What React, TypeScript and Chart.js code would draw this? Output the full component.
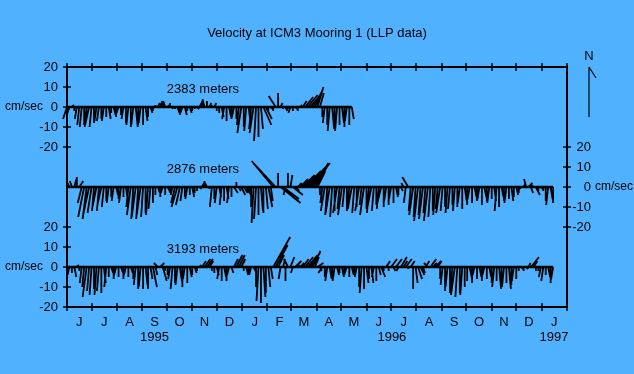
import { useEffect, useRef } from "react";
import { Chart, registerables } from "chart.js";

Chart.register(...registerables);

const BG = "rgb(80,178,255)";
const FONT = "'Liberation Sans', Arial, sans-serif";

const TITLE = "Velocity at ICM3 Mooring 1 (LLP data)";
const DEPTHS = ["2383 meters", "2876 meters", "3193 meters"];
const OFFSETS = [80, 40, 0];
const PANEL_TICKS = [20, 10, 0, -10, -20];

// days since 1 June 1995
const MONTH_STARTS = [0, 30, 61, 92, 122, 153, 183, 214, 245, 274, 305, 335, 366, 396, 427, 458, 488, 519, 549, 580, 611];
const MONTH_LABELS = ["J", "J", "A", "S", "O", "N", "D", "J", "F", "M", "A", "M", "J", "J", "A", "S", "O", "N", "D", "J"];
const YEAR_LABELS = ["1995", "1996", "1997"];
const YEAR_DAYS = [107, 397, 595];
const LABEL_DAY = 122;

const START_DAY = 0;
const STEP_DAYS = 3;

// 2383 m (east, north components, cm/s)
const U1 = [-2, -1, 1, 0, -1,
  -1, -1, 0, -1, -2, -1, 0, -1, -1,
  0, -1, 0, 1,
  0, 1, 0, -1, 0,
  -1, 0, -1, 0, -1, 1, 0, -1, 0, 1,
  0, 1, 0,
  0, 1, 1, 0, -1, 1, 0, 0,
  0, 1, 0, -1, 1, 0, 1, 0, 0, 1,
  1, 0, -1, 0, 1, 0,
  1, 0,
  0, 1, -1, 0, 1, 0, -1, 0,
  -1, -2, 0, -1, 1, -1, -2, -1, 0, 1, 4, 3,
  0, 1, 0, -3.5, 0, 1,
  0, 1, 0, -1, 0, 1, 0, 1,
  2, 4, 5, 6, 5, 4, 3, 2,
  0, -1, 0, -1, 1, 0, -1, 0, 1, 0, -1, 0, 1];
const V1 = [-6, -3, 1, -2, -6,
  -9, -10, -9, -10, -9, -10, -8, -7, -7,
  -6, -7, -5, -6,
  -3, -4, -5, -3, -4,
  -6, -8, -9, -10, -9, -10, -9, -8, -9, -7,
  -5, -3, -2,
  1, 2, 3, 2, 3, 1, 2, -1,
  -1, -3, -4, -3, -4, -2, -3, -2, -1, -1,
  2, 3, 4, 3, 2, 1,
  2, -2,
  -3, -5, -6, -7, -5, -6, -5, -6,
  -9, -13, -10, -12, -9, -11, -13, -17, -15, -11, -9, -6,
  -2, -1, -2, 5.5, 7, 2,
  -1, -2, -1, -3, -2, -1, -2, 1,
  3, 5, 6, 7, 8, 9, 10, 7,
  -5, -8, -9, -12, -11, -10, -12, -9, -8, -10, -7, -9, -6];

// 2876 m
const U2 = [0,
  -1, -1, 1, 0, 2,
  -2, -3, -2, -3, -2, -1, -2, -1, -2, -1, 0, -1,
  0, -1, 1, 0, -1, 0, 1,
  -1, -2, -1, -2, -1, -2, -1, 0, -1, -1, 0,
  0, 1, 0, -1, 0, 1, 0, -1,
  -2, -3, -2, -1, 0, -1, 0, 1, 0, 0, 1,
  1, 0, -1, 0,
  -1, 0, -1, 1, -1, 0, 1, -1, 0,
  2, 0, 1, 2, 2, 3, 1,
  0, -1, -1, 0, 1, 0, 1, 2, 1,
  -10, -12, 0, 10, 8, -1, 0, 1, 5, 2,
  2, 4, 6, 8, 9, 10, 8, 6, 4,
  0, -1, -2, -1, -2, -1, 0, -2, -1, -2, -1, 0, -1, -2, -1, 0, -2, -1, -2, 0, -1, -2, -1, 0, -1, -2, 0, -1, 0, -1, 0, 1, 0,
  1, -1, -1, -3, -1, -2,
  -1, -2, -1, -2, -1, -2, -1, 0, -1, -1, -2, -1, 0, -1, -1, 0, -1, 0, -1, 0, 1,
  0, -1, 0, 1, 0, -1, 0, 1, 0, -1, 0, 1, -1, 0, 1, 0, -1, 0, 1, 0, 1, 0,
  -2, 1, -1, 2, 1, -1, 2, 0, 1, 0,
  0, -1, 1, 0];
const V2 = [-10,
  2, 3, 4, 5, 3,
  -8, -15, -16, -14, -13, -12, -10, -12, -9, -10, -7, -8,
  -5, -7, -4, -6, -8, -5, -7,
  -10, -14, -16, -15, -16, -14, -15, -13, -14, -11, -8,
  -4, -3, -5, -3, -4, -2, -3, -4,
  -8, -10, -9, -7, -5, -6, -4, -5, -3, -2, -1,
  2, 3, 2, -1,
  -10, -6, -8, -5, -9, -7, -6, -8, -5,
  -3, 2.5, -2, -4, -3, -5, -2,
  -10, -18, -16, -14, -12, -13, -11, -10, -7,
  12, 13, 7, -8, -6, -4, 7, 6, -4, -2,
  2, 4, 6, 8, 10, 12, 12, 10, 8,
  -4, -8, -12, -14, -13, -15, -12, -13, -11, -14, -10, -12, -9, -11, -13, -10, -12, -9, -14, -11, -13, -10, -12, -9, -11, -8, -10, -7, -9, -6, -8, -5, -4,
  -2, 2, -8, 5, -12, -14,
  -15, -17, -14, -16, -13, -17, -15, -12, -14, -11, -13, -12, -10, -13, -11, -9, -12, -10, -8, -11, -7,
  -9, -6, -8, -5, -7, -6, -9, -5, -7, -8, -6, -7, -12, -10, -5, -7, -8, -6, -7, -5, -4, -3,
  -2, 2, 4, 2, -3, 1, -4, -2, -1, -2,
  -7, -9, -6, -8];

// 3193 m
const U3 = [0, -1, 0, 1, 1, 0,
  -1, -1, -2, -1, -1, 0, -1, -1, 0, 1, -1,
  0, 1, 0, -1, 0, 1, 0, -1, 0, 1,
  0, -1, 0, -1, 0, 1, 0, 1, 2, 1,
  -2, 2, 2, 0,
  0, -1, -1, 0, -1, 1, 0, -1, 0, 1, 0, 1, 0,
  1, 2, 3, 3, 2, 0,
  0, 1, -1, 0, 1, 0, -1, 1,
  2, 3, 3, 2, 0,
  1, 0, -1, 1,
  0, -1, 0, 1, 0, 1, 1,
  8.5, 6, 3, -1, 1, 0, -2, 2, -1, 3,
  1, 2, 3, 4, 5, 5, 4, 2, 3,
  1, -2, 0, -1, 1, 0, -1, 1,
  0, 1, 0, -1, 0, 1, 0, -1,
  0, -1, 0, 1,
  0, 1, -1, 0, 1, 2, 0,
  2, 0, 3, 1, 3, -1, 3, 2, 3, 0, 2,
  0, 1, 2, 2, 1,
  2, -2, 3, 2, 3, 2,
  0, -1, 0, -1, 0, -1, -2, -1, 0, -1, 0,
  0, 1, 0, -1, 0, 1, 0, -1, 0, 1,
  0, -1, 0, 1, 0, -1, 0, 1, 0, -1, 0,
  0, 1, 0, 1,
  1, 4, 2, 0,
  0, -1, -1, 0, 1, 0, -1];
const V3 = [-2, -4, -3, -5, 1, -2,
  -8, -10, -15, -12, -14, -11, -14, -12, -13, -8, -10,
  -5, -3, -6, -4, -5, -3, -6, -4, -5, -3,
  -6, -9, -11, -10, -11, -9, -11, -6, -10, -4,
  2, 2, -7, -2,
  -4, -6, -11, -8, -9, -7, -10, -6, -8, -5, -4, -3, -2,
  1, 3, 4, 4, 3, -2,
  -3, -4, -6, -7, -5, -7, -4, -3,
  4, 6, 6, 4, -2,
  -4, -3, -4, -2,
  -10, -17, -18, -15, -13, -10, -6,
  15, 11, 6, -6, 4, -7, 4, 5, -3, 3,
  1, 2, 4, 5, 6, 7, 8, 5, 2,
  -2, -3, -5, -7, -6, -5, -7, -4,
  -3, -5, -4, -3, -5, -4, -3, -5,
  -10, -13, -11, -8,
  -6, -8, -5, -7, -4, -5, -2,
  3, -2, 4, -2, 4, -2, 5, 3, 4, -1, 3,
  -11, -8, -6, -4, -3,
  3, 2, 4, 2, 3, 3,
  -6, -9, -12, -10, -13, -11, -14, -15, -13, -14, -10,
  -7, -5, -8, -4, -6, -5, -7, -4, -6, -5,
  -8, -10, -7, -11, -9, -10, -8, -11, -9, -7, -6,
  -2, -1, -2, -1,
  2, 5, 3, -2,
  -2, -5, -7, -4, -5, -8, -6];

const SERIES = [
  { u: U1, v: V1 },
  { u: U2, v: V2 },
  { u: U3, v: V3 },
];

const X_MIN = 0;
const X_MAX = 611;
const Y_MIN = -20;
const Y_MAX = 100;
const PAD = { left: 67, right: 67, top: 67, bottom: 67 };
const W = 634;
const H = 374;
// days per cm/s so that a stick has equal pixel scale in x and y
const K = ((X_MAX - X_MIN) / (W - PAD.left - PAD.right)) * ((H - PAD.top - PAD.bottom) / (Y_MAX - Y_MIN));

function stickData(u: number[], v: number[], off: number) {
  const pts: { x: number; y: number | null }[] = [];
  const n = Math.min(u.length, v.length);
  for (let i = 0; i < n; i++) {
    const t = START_DAY + i * STEP_DAYS;
    pts.push({ x: t, y: off });
    pts.push({ x: t + u[i] * K, y: off + v[i] });
    pts.push({ x: t, y: null });
  }
  return pts;
}

const overlay = {
  id: "overlay",
  afterDraw(chart: any) {
    const { ctx, chartArea: a } = chart;
    const xs = chart.scales.x;
    const ys = chart.scales.y;
    ctx.save();
    ctx.strokeStyle = "#000";
    ctx.fillStyle = "#000";
    ctx.lineWidth = 2;
    ctx.strokeRect(a.left, a.top, a.right - a.left, a.bottom - a.top);
    ctx.lineWidth = 1.5;
    ctx.beginPath();
    MONTH_STARTS.forEach((d) => {
      const px = Math.round(xs.getPixelForValue(d));
      ctx.moveTo(px, a.top - 4);
      ctx.lineTo(px, a.top + 4);
      ctx.moveTo(px, a.bottom - 4);
      ctx.lineTo(px, a.bottom + 4);
    });
    [0, 2].forEach((p) =>
      PANEL_TICKS.forEach((t) => {
        const py = Math.round(ys.getPixelForValue(OFFSETS[p] + t));
        ctx.moveTo(a.left - 4, py);
        ctx.lineTo(a.left + 4, py);
      })
    );
    PANEL_TICKS.forEach((t) => {
      const py = Math.round(ys.getPixelForValue(OFFSETS[1] + t));
      ctx.moveTo(a.right - 4, py);
      ctx.lineTo(a.right + 4, py);
    });
    ctx.stroke();

    // north arrow
    const nx = a.right + 22;
    ctx.lineWidth = 1.2;
    ctx.beginPath();
    ctx.moveTo(nx, a.top);
    ctx.lineTo(nx, a.top + 50);
    ctx.moveTo(nx, a.top);
    ctx.lineTo(nx + 7, a.top + 11);
    ctx.stroke();

    ctx.font = `13px ${FONT}`;
    ctx.textBaseline = "middle";
    ctx.textAlign = "center";
    ctx.fillText("N", nx, a.top - 11);
    ctx.fillText(TITLE, (a.left + a.right) / 2, 33);

    for (let i = 0; i < MONTH_LABELS.length; i++) {
      const mid = (MONTH_STARTS[i] + MONTH_STARTS[i + 1]) / 2;
      ctx.fillText(MONTH_LABELS[i], xs.getPixelForValue(mid), a.bottom + 15);
    }
    YEAR_LABELS.forEach((y, i) => {
      ctx.fillText(y, xs.getPixelForValue(YEAR_DAYS[i]), a.bottom + 30);
    });

    ctx.textAlign = "right";
    [0, 2].forEach((p) =>
      PANEL_TICKS.forEach((t) => {
        ctx.fillText(String(t), a.left - 9, ys.getPixelForValue(OFFSETS[p] + t));
      })
    );
    PANEL_TICKS.forEach((t) => {
      ctx.fillText(String(t), a.right + 24, ys.getPixelForValue(OFFSETS[1] + t));
    });
    ctx.textAlign = "left";
    ctx.font = `12px ${FONT}`;
    ctx.fillText("cm/sec", a.left - 62, ys.getPixelForValue(OFFSETS[0]));
    ctx.fillText("cm/sec", a.left - 62, ys.getPixelForValue(OFFSETS[2]));
    ctx.fillText("cm/sec", a.right + 28, ys.getPixelForValue(OFFSETS[1]));

    ctx.font = `13px ${FONT}`;
    DEPTHS.forEach((d, i) => {
      ctx.fillText(d, xs.getPixelForValue(LABEL_DAY), ys.getPixelForValue(OFFSETS[i] + 9));
    });
    ctx.restore();
  },
};

export default function App() {
  const ref = useRef<HTMLCanvasElement | null>(null);
  useEffect(() => {
    if (!ref.current) return;
    const datasets: any[] = [];
    SERIES.forEach((s, i) => {
      const n = Math.min(s.u.length, s.v.length);
      const last = START_DAY + (n - 1) * STEP_DAYS;
      datasets.push({
        data: stickData(s.u, s.v, OFFSETS[i]),
        borderColor: "#000",
        borderWidth: 1.8,
        pointRadius: 0,
        spanGaps: false,
        tension: 0,
        clip: false,
      });
      datasets.push({
        data: [
          { x: START_DAY, y: OFFSETS[i] },
          { x: last, y: OFFSETS[i] },
        ],
        borderColor: "#000",
        borderWidth: 2.5,
        pointRadius: 0,
        clip: false,
      });
    });
    const chart = new Chart(ref.current, {
      type: "line",
      data: { datasets },
      options: {
        animation: false,
        responsive: false,
        layout: { padding: PAD },
        plugins: { legend: { display: false }, tooltip: { enabled: false } },
        events: [],
        scales: {
          x: { type: "linear", min: X_MIN, max: X_MAX, display: false },
          y: { type: "linear", min: Y_MIN, max: Y_MAX, display: false },
        },
      },
      plugins: [overlay],
    });
    return () => chart.destroy();
  }, []);
  return (
    <div style={{ position: "absolute", left: 0, top: 0, width: W, height: H, background: BG }}>
      <canvas ref={ref} width={W} height={H} style={{ width: W, height: H, display: "block" }} />
    </div>
  );
}
